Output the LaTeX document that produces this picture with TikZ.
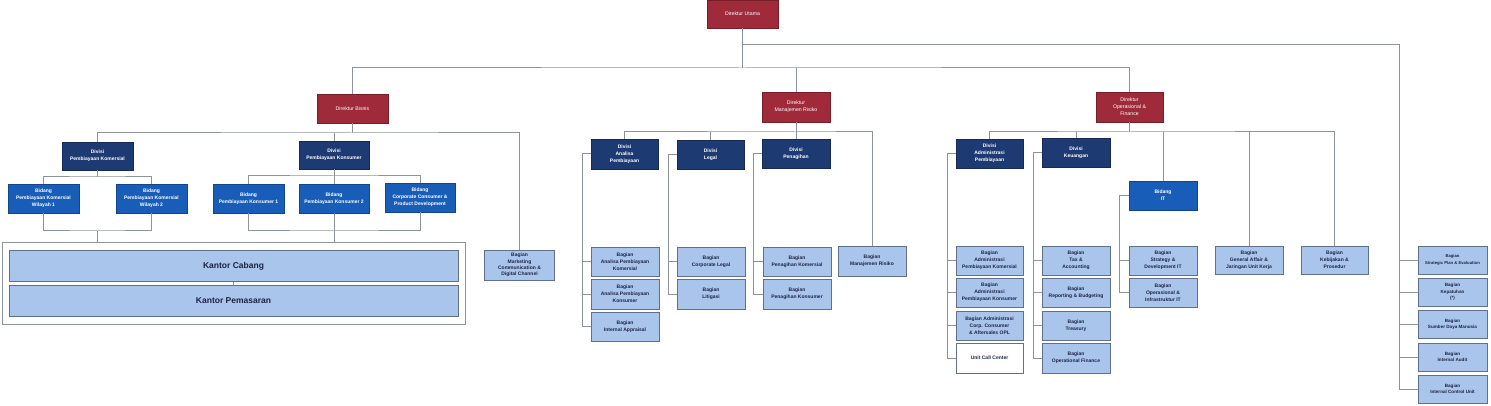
\documentclass[tikz,border=0pt]{standalone}
\usepackage{fontspec}
\setmainfont{Liberation Sans}
\definecolor{cRed}{RGB}{158,42,58}
\definecolor{cRedD}{RGB}{120,30,40}
\definecolor{cNavy}{RGB}{30,58,114}
\definecolor{cNavyD}{RGB}{22,42,85}
\definecolor{cBlue}{RGB}{24,94,184}
\definecolor{cBlueD}{RGB}{18,70,140}
\definecolor{cLight}{RGB}{170,197,236}
\definecolor{cLightD}{RGB}{95,112,140}
\definecolor{cText}{RGB}{28,36,66}
\definecolor{cLine}{RGB}{140,148,154}
\tikzset{
  base/.style={rectangle, inner sep=0pt, align=center, minimum width=68pt, minimum height=29pt, line width=0.6pt},
  dir/.style={base, fill=cRed, draw=cRedD, text=white, font=\fontsize{5.2}{7}\selectfont},
  div/.style={base, fill=cNavy, draw=cNavyD, text=white, font=\bfseries\fontsize{5}{7}\selectfont},
  bid/.style={base, fill=cBlue, draw=cBlueD, text=white, font=\bfseries\fontsize{5}{7}\selectfont},
  bag/.style={base, fill=cLight, draw=cLightD, text=cText, font=\bfseries\fontsize{5}{7}\selectfont},
  bagw/.style={base, fill=white, draw=cLightD, text=cText, font=\bfseries\fontsize{5}{7}\selectfont},
  kantor/.style={base, fill=cLight, draw=cLightD, text=cText, minimum width=449pt, minimum height=31pt, font=\bfseries\fontsize{8.5}{10}\selectfont},
  framebox/.style={rectangle, draw=cLine, line width=0.8pt, inner sep=0pt, minimum width=463.5pt, minimum height=81.4pt},
  ln/.style={draw=cLine, line width=1pt}
}
\begin{document}
\begin{tikzpicture}[x=1pt,y=-1pt]
\useasboundingbox (0,0) rectangle (1491,406);
% Direktur
\node[dir, minimum width=71pt, minimum height=28pt] (du) at (742.5,14) {Direktur Utama};
\node[dir, minimum width=71pt] (db) at (352.5,108.5) {Direktur Bisnis};
\node[dir, minimum height=30pt] (dmr) at (796,107) {Direktur\\Manajemen Risiko};
\node[dir, minimum width=67pt, minimum height=30pt] (dof) at (1129.5,107) {Direktur\\Operasional \&\\Finance};
% Bisnis
\node[div, minimum width=71pt, minimum height=28pt] (dpk) at (97.5,156) {Divisi\\Pembiayaan Komersial};
\node[div, minimum width=70pt, minimum height=28pt] (dpkons) at (334,155) {Divisi\\Pembiayaan Konsumer};
\node[bid, minimum width=71pt] (b1) at (43.5,198.5) {Bidang\\Pembiayaan Komersial\\Wilayah 1};
\node[bid, minimum width=71pt] (b2) at (151.5,198.5) {Bidang\\Pembiayaan Komersial\\Wilayah 2};
\node[bid, minimum width=71pt] (bk1) at (248.5,198.5) {Bidang\\Pembiayaan Konsumer 1};
\node[bid, minimum width=70pt] (bk2) at (334,198.5) {Bidang\\Pembiayaan Konsumer 2};
\node[bid, minimum width=70pt] (bcc) at (420,197.5) {Bidang\\Corporate Consumer \&\\Product Development};
\node[framebox] (frame) at (233.75,283.3) {};
\node[kantor] (kc) at (233.5,266) {Kantor Cabang};
\node[kantor] (kp) at (233.5,300.5) {Kantor Pemasaran};
\node[bag, minimum width=70pt, minimum height=30pt, font=\bfseries\fontsize{5}{6.3}\selectfont] (mkt) at (519.5,265) {Bagian\\Marketing\\Communication \&\\Digital Channel};
% Manajemen Risiko
\node[div, minimum width=67pt, minimum height=30pt] (dap) at (624.5,154) {Divisi\\Analisa\\Pembiayaan};
\node[div, minimum width=67pt] (dlegal) at (710.5,154.5) {Divisi\\Legal};
\node[div] (dpen) at (796,153.5) {Divisi\\Penagihan};
\node[bag] (ap1) at (625,261.5) {Bagian\\Analisa Pembiayaan\\Komersial};
\node[bag, minimum height=30pt] (ap2) at (625,294) {Bagian\\Analisa Pembiayaan\\Konsumer};
\node[bag] (ap3) at (625,326.5) {Bagian\\Internal Appraisal};
\node[bag] (cl) at (711,261.5) {Bagian\\Corporate Legal};
\node[bag, minimum height=30pt] (lit) at (711,294) {Bagian\\Litigasi};
\node[bag] (pk) at (797,261.5) {Bagian\\Penagihan Komersial};
\node[bag, minimum height=30pt] (pkons) at (797,294) {Bagian\\Penagihan Konsumer};
\node[bag, minimum height=30pt] (mr) at (872,261) {Bagian\\Manajemen Risiko};
% Operasional & Finance
\node[div, minimum width=67pt] (dadm) at (989.5,153.5) {Divisi\\Administrasi\\Pembiayaan};
\node[div] (dkeu) at (1076,152.5) {Divisi\\Keuangan};
\node[bid] (bit) at (1163,195.5) {Bidang\\IT};
\node[bag, minimum width=67pt] (adm1) at (989.5,260.5) {Bagian\\Administrasi\\Pembiayaan Komersial};
\node[bag, minimum width=67pt] (adm2) at (989.5,292.5) {Bagian\\Administrasi\\Pembiayaan Konsumer};
\node[bag, minimum width=67pt] (adm3) at (989.5,325.5) {Bagian Administrasi\\Corp. Consumer\\\& Aftersales OPL};
\node[bagw, minimum width=67pt, minimum height=30pt] (ucc) at (989.5,358) {Unit Call Center};
\node[bag] (tax) at (1076,260.5) {Bagian\\Tax \&\\Accounting};
\node[bag] (rep) at (1076,292.5) {Bagian\\Reporting \& Budgeting};
\node[bag] (tre) at (1076,325.5) {Bagian\\Treasury};
\node[bag, minimum height=30pt] (opf) at (1076,358) {Bagian\\Operational Finance};
\node[bag] (sit) at (1163,260.5) {Bagian\\Strategy \&\\Development IT};
\node[bag] (oit) at (1163,292.5) {Bagian\\Operasional \&\\Infrastruktur IT};
\node[bag, minimum height=28pt] (ga) at (1249,260) {Bagian\\General Affair \&\\Jaringan Unit Kerja};
\node[bag, minimum width=67pt, minimum height=28pt] (keb) at (1334.5,260) {Bagian\\Kebijakan \&\\Prosedur};
% right column
\node[bag, minimum width=69pt, minimum height=28pt, font=\bfseries\fontsize{4.2}{6.5}\selectfont] (sp) at (1452.5,260) {Bagian\\Strategic Plan \& Evaluation};
\node[bag, minimum width=69pt, minimum height=28pt, font=\bfseries\fontsize{4.6}{6.5}\selectfont] (kep) at (1452.5,292) {Bagian\\Kepatuhan\\(*)};
\node[bag, minimum width=69pt, minimum height=28pt, font=\bfseries\fontsize{4.6}{6.5}\selectfont] (sdm) at (1452.5,324.5) {Bagian\\Sumber Daya Manusia};
\node[bag, minimum width=69pt, minimum height=28pt, font=\bfseries\fontsize{4.6}{6.5}\selectfont] (ia) at (1452.5,357) {Bagian\\Internal Audit};
\node[bag, minimum width=69pt, minimum height=28pt, font=\bfseries\fontsize{4.6}{6.5}\selectfont] (icu) at (1452.5,389) {Bagian\\Internal Control Unit};
% ---------- connectors ----------
\coordinate (bus0) at (742.5,68);
\draw[ln] (du.south) -- (bus0);
\draw[ln] (db.north) |- (bus0) -| (dof.north);
\draw[ln] (dmr.north) -- (dmr.north |- bus0);
\coordinate (rc) at (1399,45);
\draw[ln] (du.south |- rc) -- (rc) -- (rc |- icu.west) -- (icu.west);
\foreach \n in {sp,kep,sdm,ia} \draw[ln] (rc |- \n.west) -- (\n.west);
% bisnis
\coordinate (busB) at (352.5,133);
\draw[ln] (db.south) -- (busB);
\draw[ln] (dpk.north) |- (busB) -| (mkt.north);
\draw[ln] (dpkons.north) -- (dpkons.north |- busB);
\coordinate (busPK) at (97.5,177);
\draw[ln] (dpk.south) -- (busPK);
\draw[ln] (b1.north) |- (busPK) -| (b2.north);
\coordinate (busKons) at (334,176);
\draw[ln] (dpkons.south) -- (bk2.north);
\draw[ln] (bk1.north) |- (busKons) -| (bcc.north);
\coordinate (brA) at (97.5,231);
\draw[ln] (b1.south) |- (brA) -| (b2.south);
\draw[ln] (brA) -- (brA |- frame.north);
\coordinate (brB) at (334,231);
\draw[ln] (bk1.south) |- (brB) -| (bcc.south);
\draw[ln] (bk2.south) -- (bk2.south |- frame.north);
\draw[ln, line width=0.6pt] (kc.south) -- (kp.north);
% manajemen risiko
\coordinate (busM) at (796,132);
\draw[ln] (dmr.south) -- (dpen.north);
\draw[ln] (dap.north) |- (busM) -| (mr.north);
\draw[ln] (dlegal.north) -- (dlegal.north |- busM);
\coordinate (spAP) at (582,154);
\draw[ln] (dap.west) -- (spAP) |- (ap3.west);
\foreach \n in {ap1,ap2} \draw[ln] (spAP |- \n.west) -- (\n.west);
\coordinate (spLG) at (668,154.5);
\draw[ln] (dlegal.west) -- (spLG) |- (lit.west);
\draw[ln] (spLG |- cl.west) -- (cl.west);
\coordinate (spPN) at (753,153.5);
\draw[ln] (dpen.west) -- (spPN) |- (pkons.west);
\draw[ln] (spPN |- pk.west) -- (pk.west);
% operasional & finance
\coordinate (busO) at (1129.5,132);
\draw[ln] (dof.south) -- (busO);
\draw[ln] (dadm.north) |- (busO) -| (keb.north);
\draw[ln] (dkeu.north) -- (dkeu.north |- busO);
\draw[ln] (bit.north) -- (bit.north |- busO);
\draw[ln] (ga.north) -- (ga.north |- busO);
\coordinate (spAD) at (947,153.5);
\draw[ln] (dadm.west) -- (spAD) |- (ucc.west);
\foreach \n in {adm1,adm2,adm3} \draw[ln] (spAD |- \n.west) -- (\n.west);
\coordinate (spKU) at (1033,152.5);
\draw[ln] (dkeu.west) -- (spKU) |- (opf.west);
\foreach \n in {tax,rep,tre} \draw[ln] (spKU |- \n.west) -- (\n.west);
\coordinate (spIT) at (1119,195.5);
\draw[ln] (bit.west) -- (spIT) |- (oit.west);
\draw[ln] (spIT |- sit.west) -- (sit.west);
\end{tikzpicture}
\end{document}
